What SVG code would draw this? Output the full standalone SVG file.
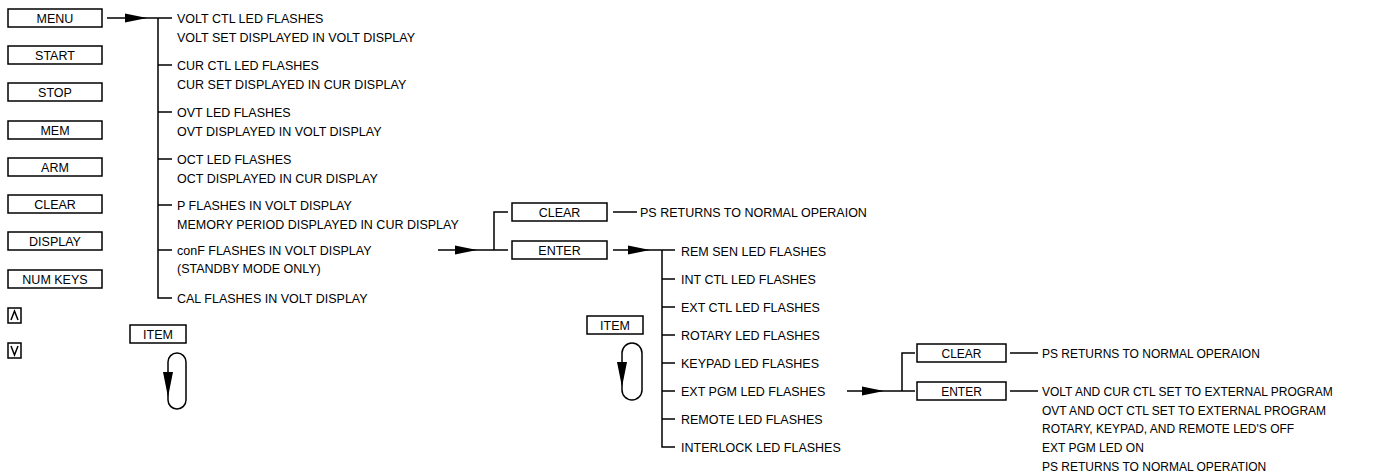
<svg xmlns="http://www.w3.org/2000/svg" width="1384" height="476" viewBox="0 0 1384 476">
<style>
text{font-family:"Liberation Sans",Arial,sans-serif;font-size:12.5px;fill:#000}
.c{text-anchor:middle}
.s{font-size:12px}
.box{fill:#fff;stroke:#000;stroke-width:1.5}
.ln{fill:none;stroke:#000;stroke-width:1.5}
.ah{fill:#000;stroke:none}
</style>
<defs>
<path id="ar" d="M-22,-4.5 L0,0 L-22,4.5 Z"/>
<path id="dn" d="M-5,0 L5,0 L0,25 Z"/>
</defs>
<rect width="1384" height="476" fill="#fff"/>
<g id="keys">
<g id="k-menu"><rect class="box" x="8" y="9" width="94" height="18"/><text class="c" x="55" y="22.5">MENU</text></g>
<g id="k-start"><rect class="box" x="8" y="46" width="94" height="18"/><text class="c" x="55" y="59.5">START</text></g>
<g id="k-stop"><rect class="box" x="8" y="83" width="94" height="18"/><text class="c" x="55" y="96.5">STOP</text></g>
<g id="k-mem"><rect class="box" x="8" y="121" width="94" height="18"/><text class="c" x="55" y="134.5">MEM</text></g>
<g id="k-arm"><rect class="box" x="8" y="158" width="94" height="18"/><text class="c" x="55" y="171.5">ARM</text></g>
<g id="k-clear"><rect class="box" x="8" y="195" width="94" height="18"/><text class="c" x="55" y="208.5">CLEAR</text></g>
<g id="k-display"><rect class="box" x="8" y="232" width="94" height="18"/><text class="c" x="55" y="245.5">DISPLAY</text></g>
<g id="k-num"><rect class="box" x="8" y="270" width="94" height="18"/><text class="c" x="55" y="283.5">NUM KEYS</text></g>
<g id="k-up"><rect class="box" x="8" y="308" width="13" height="15"/><path class="ln" d="M11,320 L14.5,311 L18,320"/></g>
<g id="k-down"><rect class="box" x="8" y="343" width="13" height="15"/><path class="ln" d="M11,346 L14.5,355 L18,346"/></g>
</g>
<g id="item1"><rect class="box" x="130" y="325" width="56" height="18"/><text class="c" x="158" y="338.5">ITEM</text>
<path class="ln" d="M168,362 A9,9 0 0 1 186,362 L186,400 A9,9 0 0 1 168,400 Z"/><use href="#dn" class="ah" x="168" y="372"/></g>
<g id="menu-list">
<text x="177" y="22.5">VOLT CTL LED FLASHES</text>
<text x="177" y="41.5">VOLT SET DISPLAYED IN VOLT DISPLAY</text>
<text x="177" y="69.5">CUR CTL LED FLASHES</text>
<text x="177" y="88.5">CUR SET DISPLAYED IN CUR DISPLAY</text>
<text x="177" y="116.5">OVT LED FLASHES</text>
<text x="177" y="135.5">OVT DISPLAYED IN VOLT DISPLAY</text>
<text x="177" y="163.5">OCT LED FLASHES</text>
<text x="177" y="182.5">OCT DISPLAYED IN CUR DISPLAY</text>
<text x="177" y="209.5">P FLASHES IN VOLT DISPLAY</text>
<text x="177" y="228.5">MEMORY PERIOD DISPLAYED IN CUR DISPLAY</text>
<text x="177" y="254.5">conF FLASHES IN VOLT DISPLAY</text>
<text x="177" y="272.5">(STANDBY MODE ONLY)</text>
<text x="177" y="302.5">CAL FLASHES IN VOLT DISPLAY</text>
</g>
<g id="conf-choice">
<g id="m-clear"><rect class="box" x="512" y="203" width="95" height="18"/><text class="c" x="559.5" y="216.5">CLEAR</text></g>
<g id="m-enter"><rect class="box" x="512" y="241" width="95" height="18"/><text class="c" x="559.5" y="254.5">ENTER</text></g>
<text x="640" y="216.5">PS RETURNS TO NORMAL OPERAION</text>
</g>
<g id="item2"><rect class="box" x="587" y="316" width="56" height="18"/><text class="c" x="615" y="329.5">ITEM</text>
<path class="ln" d="M622,353 A10,10 0 0 1 642,353 L642,390 A10,10 0 0 1 622,390 Z"/><use href="#dn" class="ah" x="622" y="362"/></g>
<g id="conf-list">
<text x="681" y="255.5">REM SEN LED FLASHES</text>
<text x="681" y="283.5">INT CTL LED FLASHES</text>
<text x="681" y="311.5">EXT CTL LED FLASHES</text>
<text x="681" y="339.5">ROTARY LED FLASHES</text>
<text x="681" y="367.5">KEYPAD LED FLASHES</text>
<text x="681" y="395.5">EXT PGM LED FLASHES</text>
<text x="681" y="423.5">REMOTE LED FLASHES</text>
<text x="681" y="451.5">INTERLOCK LED FLASHES</text>
</g>
<g id="pgm-choice">
<g id="r-clear"><rect class="box" x="917" y="344" width="89" height="18"/><text class="c s" x="961.5" y="357.5">CLEAR</text></g>
<g id="r-enter"><rect class="box" x="917" y="382" width="89" height="18"/><text class="c s" x="961.5" y="395.5">ENTER</text></g>
<text class="s" x="1042" y="357.5">PS RETURNS TO NORMAL OPERAION</text>
<text class="s" x="1042" y="396">VOLT AND CUR CTL SET TO EXTERNAL PROGRAM</text>
<text class="s" x="1042" y="414.5">OVT AND OCT CTL SET TO EXTERNAL PROGRAM</text>
<text class="s" x="1042" y="433">ROTARY, KEYPAD, AND REMOTE LED'S OFF</text>
<text class="s" x="1042" y="452">EXT PGM LED ON</text>
<text class="s" x="1042" y="471">PS RETURNS TO NORMAL OPERATION</text>
</g>
<g id="connectors">
<path class="ln" d="M107,18 L172,18 M158,18 L158,298 L172,298 M158,65 L172,65 M158,112 L172,112 M158,159 L172,159 M158,205 L172,205 M158,250 L172,250"/>
<use href="#ar" class="ah" x="147" y="18"/>
<path class="ln" d="M438,250 L494,250 M508,212 L494,212 L494,250 L508,250"/>
<use href="#ar" class="ah" x="477" y="250"/>
<path class="ln" d="M613,212 L637,212"/>
<path class="ln" d="M613,250 L675,250 M662,250 L662,447 L675,447 M662,279 L675,279 M662,307 L675,307 M662,335 L675,335 M662,363 L675,363 M662,391 L675,391 M662,419 L675,419"/>
<use href="#ar" class="ah" x="650" y="250"/>
<path class="ln" d="M847,391 L902,391 M915,353 L902,353 L902,391 L915,391"/>
<use href="#ar" class="ah" x="884" y="391"/>
<path class="ln" d="M1010,353 L1038,353 M1010,391 L1038,391"/>
</g>
</svg>
